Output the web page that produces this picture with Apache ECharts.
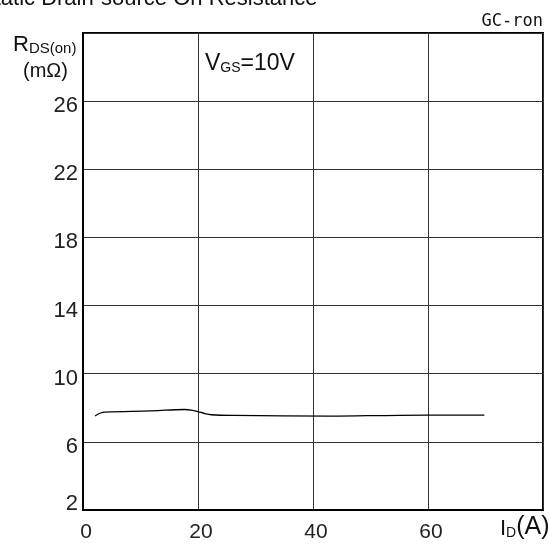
<!DOCTYPE html>
<html>
<head>
<meta charset="utf-8">
<script src="https://cdn.jsdelivr.net/npm/echarts@6/dist/echarts.min.js"></script>
<style>
  html, body { margin: 0; padding: 0; background: #fff; }
  #chart { width: 553px; height: 547px; }
</style>
</head>
<body>
<div id="chart"></div>
<script>
// Drain current I_D (A) and on-resistance R_DS(on) (mΩ) at V_GS = 10 V
const currentA = [2.1, 2.95, 3.8, 11.9, 17.7, 19.1, 20.0, 21.2, 22.3, 26.4, 42.9, 55.0, 69.8];
const rdsOn    = [7.52, 7.68, 7.75, 7.82, 7.9, 7.85, 7.78, 7.66, 7.59, 7.55, 7.51, 7.56, 7.57];

// Labelled tick values
const xTicks = [0, 20, 40, 60];
const yTicks = [2, 6, 10, 14, 18, 22, 26];

const FONT = 'Liberation Sans, Arial, sans-serif';
const chart = echarts.init(document.getElementById('chart'));

chart.setOption({
  backgroundColor: '#fff',
  animation: false,
  grid: {
    left: 83, right: 10, top: 33, bottom: 37,
    show: true, borderColor: '#000', borderWidth: 2
  },
  xAxis: {
    type: 'value', min: 0, max: 80, interval: 20,
    axisLine: { show: true, lineStyle: { color: '#000', width: 2 } },
    axisTick: { show: false },
    splitLine: { show: true, lineStyle: { color: '#333', width: 1 } },
    axisLabel: {
      margin: 12,
      fontFamily: FONT, fontSize: 21, color: '#222',
      padding: [0, 0, 0, 6],
      formatter: v => (xTicks.includes(v) ? String(v) : '')
    }
  },
  yAxis: {
    type: 'value', min: 2, max: 30, interval: 4,
    axisLine: { show: true, lineStyle: { color: '#000', width: 2 } },
    axisTick: { show: false },
    splitLine: { show: true, lineStyle: { color: '#333', width: 1 } },
    axisLabel: {
      margin: 5,
      fontFamily: FONT, fontSize: 22, color: '#222',
      formatter: v => {
        if (!yTicks.includes(v)) return '';
        return v === 2 ? '{lo|' + v + '}' : '{n|' + v + '}';
      },
      rich: {
        n:  { fontFamily: FONT, fontSize: 22, color: '#222', padding: [10, 0, 0, 0] },
        lo: { fontFamily: FONT, fontSize: 22, color: '#222', padding: [0, 0, 12, 0] }
      }
    }
  },
  series: [{
    type: 'line',
    data: currentA.map((x, i) => [x, rdsOn[i]]),
    smooth: 0.4,
    showSymbol: false,
    lineStyle: { color: '#000', width: 1.3 }
  }],
  graphic: [
    {
      type: 'text', left: -20, top: -12,
      style: { text: 'Static Drain-source On Resistance', font: '22px ' + FONT, fill: '#111' }
    },
    {
      type: 'text', right: 10, top: 13,
      style: { text: 'GC-ron', font: '17px DejaVu Sans Mono, monospace', fill: '#111' }
    },
    {
      type: 'text', left: 13, top: 34,
      style: {
        text: '{a|R}{b|DS(on)}',
        rich: {
          a: { fontFamily: FONT, fontSize: 22, fill: '#111', verticalAlign: 'bottom' },
          b: { fontFamily: FONT, fontSize: 15, fill: '#111', verticalAlign: 'bottom' }
        }
      }
    },
    {
      type: 'text', left: 23, top: 61,
      style: { text: '(mΩ)', font: '20px ' + FONT, fill: '#111' }
    },
    {
      type: 'text', left: 205, top: 52,
      style: {
        text: '{a|V}{b|GS}{a|=10V}',
        rich: {
          a: { fontFamily: FONT, fontSize: 23, fill: '#111', verticalAlign: 'bottom' },
          b: { fontFamily: FONT, fontSize: 14, fill: '#111', verticalAlign: 'bottom' }
        }
      }
    },
    {
      type: 'text', left: 500, top: 515,
      style: {
        text: '{a|I}{b|D}{c|(A)}',
        rich: {
          a: { fontFamily: FONT, fontSize: 22, fill: '#111', verticalAlign: 'bottom' },
          b: { fontFamily: FONT, fontSize: 14, fill: '#111', verticalAlign: 'bottom' },
          c: { fontFamily: FONT, fontSize: 25, fill: '#111', verticalAlign: 'bottom' }
        }
      }
    }
  ]
});
</script>
</body>
</html>
